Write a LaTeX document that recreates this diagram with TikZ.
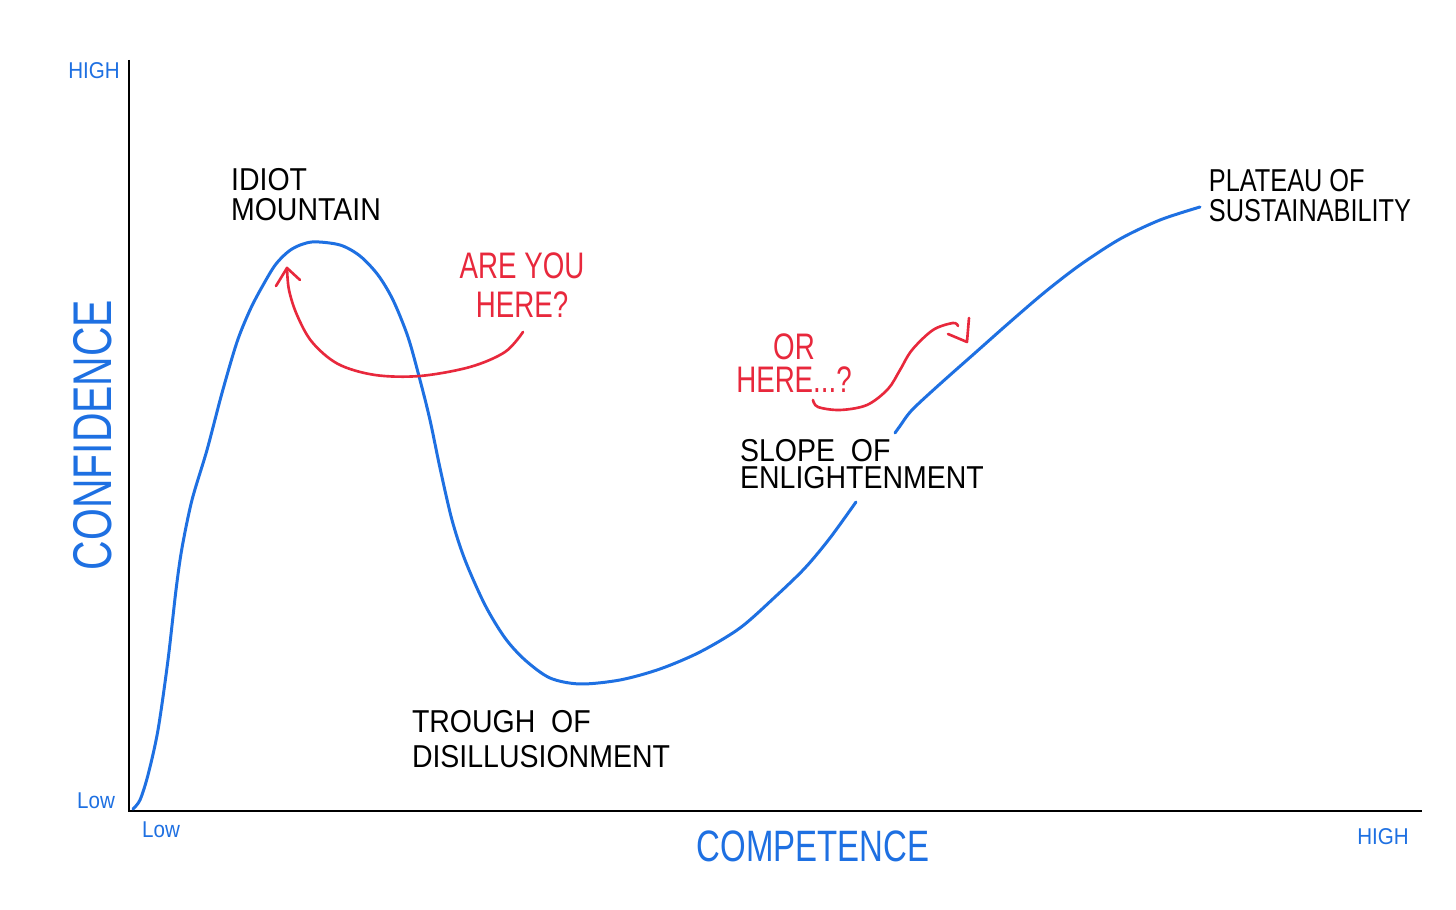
\documentclass[tikz,border=0pt]{standalone}
\usepackage{fontspec}
\setmainfont{Liberation Sans}
\newfontfamily\handA[FakeStretch=0.9]{Liberation Sans}
\newfontfamily\handB[FakeStretch=0.75]{Liberation Sans}
\newfontfamily\handC[FakeStretch=0.8]{Liberation Sans}
\definecolor{penblue}{RGB}{30,112,226}
\definecolor{penred}{RGB}{232,40,60}
\begin{document}
\begin{tikzpicture}[x=0.01cm,y=-0.01cm,
  axis/.style={draw=black,line width=0.6pt},
  curve/.style={draw=penblue,line width=0.85pt,line cap=round,line join=round},
  redpen/.style={draw=penred,line width=0.75pt,line cap=round,line join=round},
  tick/.style={text=penblue,font=\handA\fontsize{6.5}{7}\selectfont,inner sep=0pt},
  axlabel/.style={text=penblue,font=\handB\fontsize{12.5}{14}\selectfont,inner sep=0pt},
  stage/.style={text=black,font=\handA\fontsize{9}{8.5}\selectfont,align=left,inner sep=0pt},
  question/.style={text=penred,font=\handB\fontsize{10.5}{10.5}\selectfont,align=center,inner sep=0pt}]
\useasboundingbox (0,0) rectangle (1456,910);
\fill[white] (0,0) rectangle (1456,910);
% axes
\coordinate (ytop) at (129,60);
\coordinate (origin) at (129,811);
\coordinate (xend) at (1422,811);
\draw[axis] (ytop) -- (origin) -- (xend);
% axis ticks
\node[tick] (yhigh) at (94,71) {HIGH};
\node[tick] (ylow) at (96,801) {Low};
\node[tick] (xlow) at (161,830) {Low};
\node[tick] (xhigh) at (1383,837) {HIGH};
\node[axlabel] (xlab) at (813,846) {COMPETENCE};
\node[axlabel,font=\handB\fontsize{15.5}{17}\selectfont,rotate=90] (ylab) at (93,435) {CONFIDENCE};
% curve
\draw[curve] plot[smooth,tension=0.5] coordinates {
 (133,809) (140,800) (148,775) (158,730) (168,660) (176,590) (182,548) (192,500)
 (207,450) (222,393) (237,342) (250,310) (262,287) (276,264) (292,249) (312,242)
 (340,245) (360,256) (378,275) (393,300) (408,337) (420,380) (430,420) (440,468)
 (452,520) (465,560) (485,605) (505,638) (525,660) (550,678) (580,684) (620,680)
 (660,669) (700,652) (740,628) (775,597) (805,568) (830,538) (856,502)};
\draw[curve] plot[smooth,tension=0.5] coordinates {
 (895,433) (900,426) (912,410) (940,384) (975,353) (1010,322) (1045,292)
 (1080,265) (1120,239) (1160,220) (1200,207)};
% labels
\node[stage] (idiot) at (306,195) {IDIOT\\MOUNTAIN};
\node[stage,font=\handA\fontsize{9}{10}\selectfont] (trough) at (541,739) {TROUGH\ \ OF\\DISILLUSIONMENT};
\node[stage,font=\handA\fontsize{9}{7.5}\selectfont] (slope) at (862,464) {SLOPE\ \ OF\\ENLIGHTENMENT};
\node[stage,font=\handC\fontsize{9}{8.5}\selectfont] (plateau) at (1310,196) {PLATEAU OF\\SUSTAINABILITY};
% questions
\node[question,font=\handB\fontsize{10.5}{11}\selectfont] (q1) at (522,285) {ARE YOU\\HERE?};
\node[question,font=\handB\fontsize{10.5}{9.5}\selectfont] (q2) at (794,363) {OR\\HERE...?};
% red arrows
\coordinate (a1s) at (523,332);
\coordinate (a1e) at (287,268);
\draw[redpen] plot[smooth,tension=0.55] coordinates {
 (a1s) (505,352) (470,367) (420,376) (375,375) (338,364) (312,342) (297,315) (289,290) (a1e)};
\draw[redpen] (276,286) -- (a1e) -- (300,280);
\coordinate (a2s) at (813,400);
\coordinate (a2e) at (967,342);
\draw[redpen] plot[smooth,tension=0.55] coordinates {
 (a2s) (818,407) (840,410) (867,405) (888,389) (900,370) (912,350) (933,330) (953,323) (958,326)};
\draw[redpen] (948,334) -- (a2e) -- (969,318);
\end{tikzpicture}
\end{document}
